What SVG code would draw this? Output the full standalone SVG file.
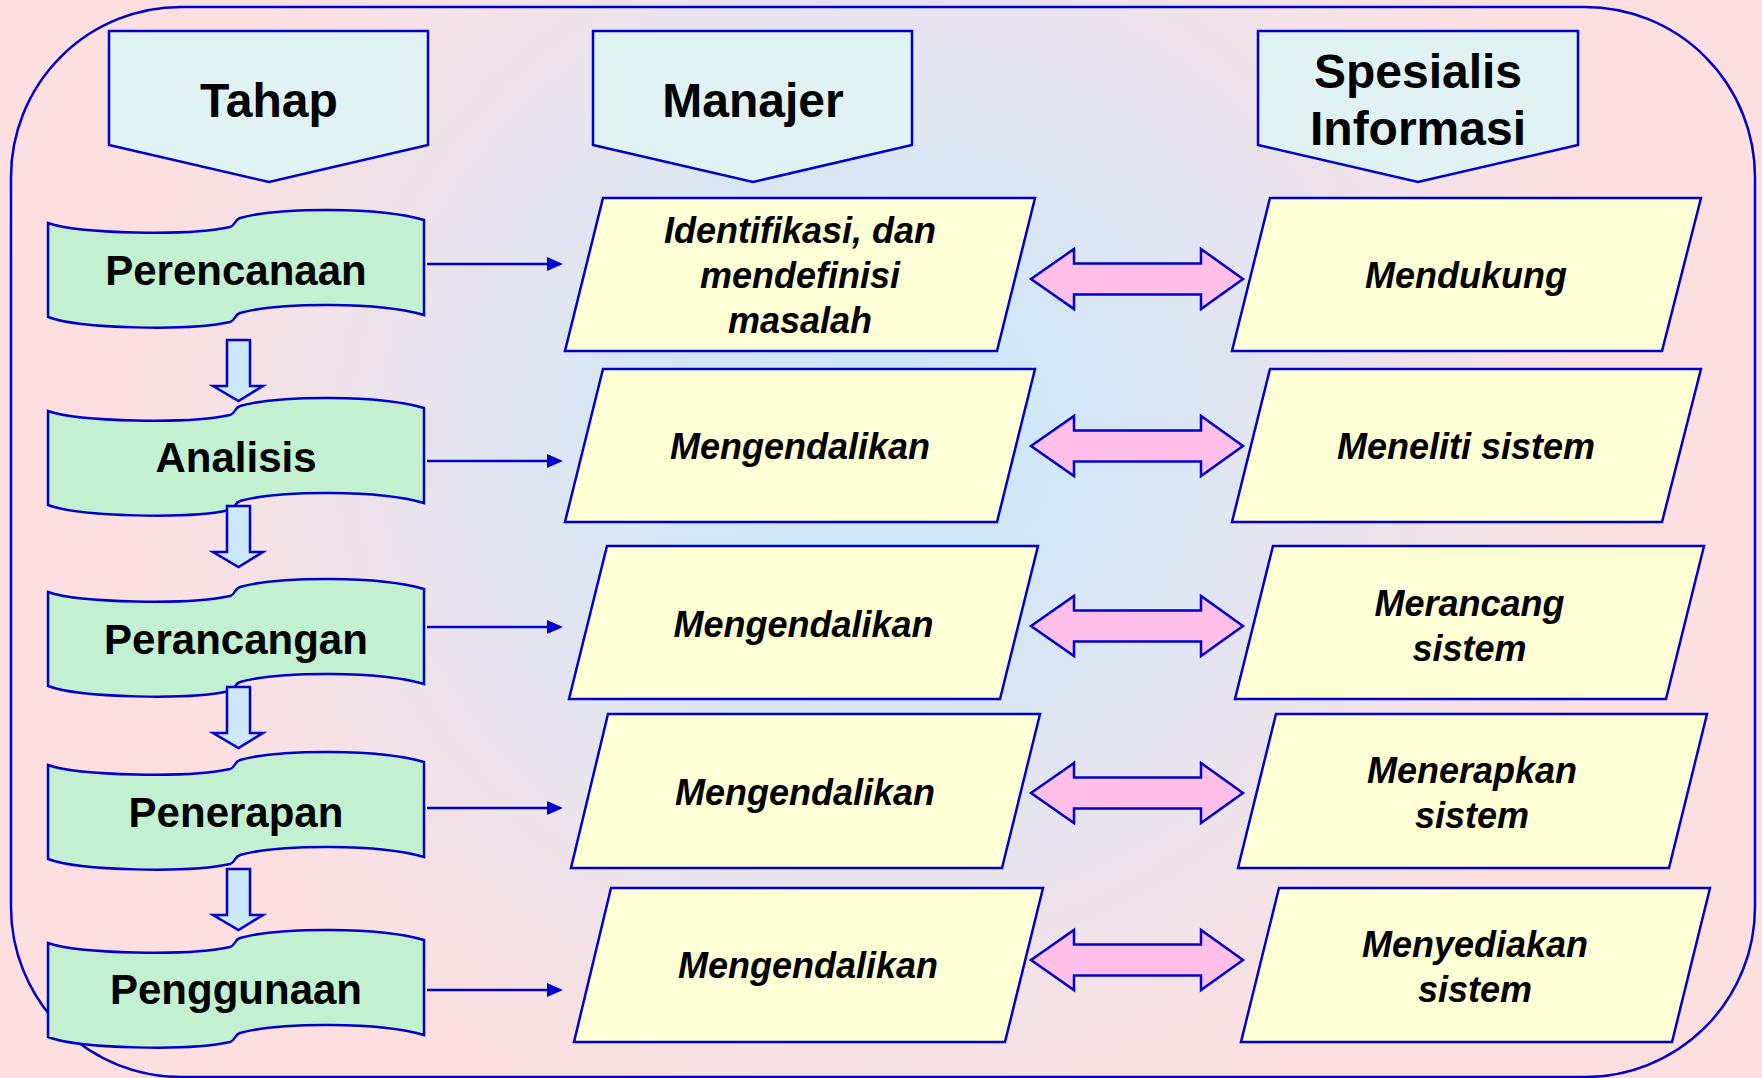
<svg xmlns="http://www.w3.org/2000/svg" xmlns:xlink="http://www.w3.org/1999/xlink" width="1762" height="1078" viewBox="0 0 1762 1078">
<defs>
<radialGradient id="bg" gradientUnits="userSpaceOnUse" cx="880" cy="440" r="760" gradientTransform="translate(880 440) scale(1 0.95) translate(-880 -440)">
<stop offset="0" stop-color="#CBE8FC"/>
<stop offset="0.25" stop-color="#D2E7F8"/>
<stop offset="0.65" stop-color="#EBE3EC"/>
<stop offset="1" stop-color="#FDDFDF"/>
</radialGradient>
<path id="scroll" d="M48,223 C80,234 190,236 230,227 C236,225 234,220 240,218 C280,207 380,207 424,220 L424,315 C380,302 280,302 240,313 C234,315 236,320 230,322 C190,331 80,329 48,317 Z"/>
<path id="down" d="M227,0 H250 V46 H263 L238.5,61 L213,46 H227 Z"/>
<path id="dbl" d="M1031,0 L1074,-30 V-15.5 H1201 V-30 L1243,0 L1201,30 V15.5 H1074 V30 Z"/>
<marker id="ah" markerUnits="userSpaceOnUse" markerWidth="16" markerHeight="14" refX="9" refY="7" orient="auto">
<path d="M0,0 L16,7 L0,14 Z" fill="#0000CC"/>
</marker>
<style>
.bd{stroke:#0000CC;stroke-width:2.5;}
.hdr{fill:#E0F2F2;}
.scr{fill:#C2F0D0;}
.dn{fill:#CCE8FF;}
.par{fill:#FFFFD5;}
.pink{fill:#FFBFE8;}
.ht{font-family:"Liberation Sans",Arial,sans-serif;font-weight:bold;font-size:48px;text-anchor:middle;fill:#000;}
.st{font-family:"Liberation Sans",Arial,sans-serif;font-weight:bold;font-size:42px;text-anchor:middle;fill:#000;}
.pt{font-family:"Liberation Sans",Arial,sans-serif;font-weight:bold;font-style:italic;font-size:36px;text-anchor:middle;fill:#000;}
.cn{stroke:#0000CC;stroke-width:2.5;fill:none;}
</style>
</defs>
<rect x="0" y="0" width="1762" height="1078" fill="url(#bg)"/>
<rect id="frame" x="11" y="7" width="1744" height="1070" rx="170" ry="170" fill="none" class="bd"/>

<g id="hdr-tahap">
<path class="hdr bd" d="M109,31 H428 V145 L269,182 L109,145 Z"/>
<text class="ht" x="269" y="117">Tahap</text>
</g>
<g id="hdr-manajer">
<path class="hdr bd" d="M593,31 H912 V145 L753,182 L593,145 Z"/>
<text class="ht" x="753" y="117">Manajer</text>
</g>
<g id="hdr-spesialis">
<path class="hdr bd" d="M1258,31 H1578 V145 L1418,182 L1258,145 Z"/>
<text class="ht" x="1418" y="88">Spesialis</text>
<text class="ht" x="1418" y="145">Informasi</text>
</g>

<g id="stage-perencanaan">
<use xlink:href="#scroll" href="#scroll" class="scr bd"/>
<text class="st" x="236" y="285">Perencanaan</text>
</g>
<g id="stage-analisis">
<use xlink:href="#scroll" href="#scroll" class="scr bd" transform="translate(0 188)"/>
<text class="st" x="236" y="472">Analisis</text>
</g>
<g id="stage-perancangan">
<use xlink:href="#scroll" href="#scroll" class="scr bd" transform="translate(0 369)"/>
<text class="st" x="236" y="654">Perancangan</text>
</g>
<g id="stage-penerapan">
<use xlink:href="#scroll" href="#scroll" class="scr bd" transform="translate(0 542)"/>
<text class="st" x="236" y="827">Penerapan</text>
</g>
<g id="stage-penggunaan">
<use xlink:href="#scroll" href="#scroll" class="scr bd" transform="translate(0 720)"/>
<text class="st" x="236" y="1004">Penggunaan</text>
</g>

<g id="m1">
<polygon class="par bd" points="603,198 1035,198 997,351 565,351"/>
<text class="pt" x="800" y="243">Identifikasi, dan</text>
<text class="pt" x="800" y="288">mendefinisi</text>
<text class="pt" x="800" y="333">masalah</text>
</g>
<g id="m2">
<polygon class="par bd" points="603,369 1035,369 997,522 565,522"/>
<text class="pt" x="800" y="459">Mengendalikan</text>
</g>
<g id="m3">
<polygon class="par bd" points="607,546 1038,546 1000,699 569,699"/>
<text class="pt" x="803.5" y="637">Mengendalikan</text>
</g>
<g id="m4">
<polygon class="par bd" points="608,714 1040,714 1002,868 571,868"/>
<text class="pt" x="805" y="805">Mengendalikan</text>
</g>
<g id="m5">
<polygon class="par bd" points="611,888 1043,888 1005,1042 574,1042"/>
<text class="pt" x="808" y="978">Mengendalikan</text>
</g>

<g id="s1">
<polygon class="par bd" points="1270,198 1701,198 1662,351 1232,351"/>
<text class="pt" x="1466" y="288">Mendukung</text>
</g>
<g id="s2">
<polygon class="par bd" points="1270,369 1701,369 1662,522 1232,522"/>
<text class="pt" x="1466" y="459">Meneliti sistem</text>
</g>
<g id="s3">
<polygon class="par bd" points="1273,546 1704,546 1666,699 1235,699"/>
<text class="pt" x="1469.5" y="616">Merancang</text>
<text class="pt" x="1469.5" y="661">sistem</text>
</g>
<g id="s4">
<polygon class="par bd" points="1276,714 1707,714 1669,868 1238,868"/>
<text class="pt" x="1472" y="783">Menerapkan</text>
<text class="pt" x="1472" y="828">sistem</text>
</g>
<g id="s5">
<polygon class="par bd" points="1279,888 1710,888 1672,1042 1241,1042"/>
<text class="pt" x="1475" y="957">Menyediakan</text>
<text class="pt" x="1475" y="1002">sistem</text>
</g>

<g id="connectors">
<use xlink:href="#down" href="#down" class="dn bd" transform="translate(0 340)"/>
<use xlink:href="#down" href="#down" class="dn bd" transform="translate(0 506)"/>
<use xlink:href="#down" href="#down" class="dn bd" transform="translate(0 687)"/>
<use xlink:href="#down" href="#down" class="dn bd" transform="translate(0 869)"/>
<line class="cn" x1="427" y1="264" x2="556" y2="264" marker-end="url(#ah)"/>
<line class="cn" x1="427" y1="461" x2="556" y2="461" marker-end="url(#ah)"/>
<line class="cn" x1="427" y1="627" x2="556" y2="627" marker-end="url(#ah)"/>
<line class="cn" x1="427" y1="808" x2="556" y2="808" marker-end="url(#ah)"/>
<line class="cn" x1="427" y1="990" x2="556" y2="990" marker-end="url(#ah)"/>
<use xlink:href="#dbl" href="#dbl" class="pink bd" transform="translate(0 279)"/>
<use xlink:href="#dbl" href="#dbl" class="pink bd" transform="translate(0 446)"/>
<use xlink:href="#dbl" href="#dbl" class="pink bd" transform="translate(0 626)"/>
<use xlink:href="#dbl" href="#dbl" class="pink bd" transform="translate(0 793)"/>
<use xlink:href="#dbl" href="#dbl" class="pink bd" transform="translate(0 960)"/>
</g>
</svg>
